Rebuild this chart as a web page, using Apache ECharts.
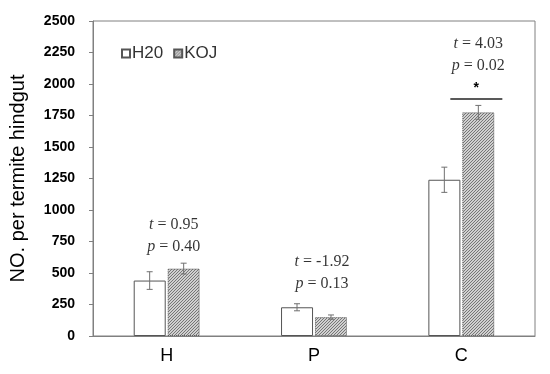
<!DOCTYPE html>
<html><head><meta charset="utf-8">
<script src="https://cdn.jsdelivr.net/npm/echarts@6/dist/echarts.min.js"></script>
<style>html,body{margin:0;padding:0;background:#fff}#c{width:550px;height:374px}</style>
</head><body><div id="c"></div>
<script>
const categories = ['H', 'P', 'C'];
const h20Values = [440, 228, 1240];
const h20Errors = [70, 28, 100];
const kojValues = [535, 150, 1775];
const kojErrors = [43, 17, 55];
const yTicks = [0, 250, 500, 750, 1000, 1250, 1500, 1750, 2000, 2250, 2500];
const annotations = [
  { cat: 0, y: 794, t: '0.95', p: '0.40', dx: 7 },
  { cat: 1, y: 504, t: '-1.92', p: '0.13', dx: 8 },
  { cat: 2, y: 2235, t: '4.03', p: '0.02', dx: 17 }
];
const sigMarks = [{ cat: 2, y: 1881, dx: 15, halfLen: 26 }];

const tile = document.createElement('canvas');
tile.width = 3; tile.height = 3;
const g = tile.getContext('2d');
g.fillStyle = '#d0d0d0'; g.fillRect(0, 0, 3, 3);
g.fillStyle = '#767676';
g.fillRect(2, 0, 1, 1); g.fillRect(1, 1, 1, 1); g.fillRect(0, 2, 1, 1);
const hatch = { image: tile, repeat: 'repeat' };

const BAR_W = 32, OFFSET = 17;
function errSeries(vals, errs, off) {
  return {
    type: 'custom', silent: true, z: 5,
    data: vals.map((v, i) => [i, v, errs[i]]),
    renderItem: function (params, api) {
      const c = api.coord([api.value(0), api.value(1) + api.value(2)]);
      const d = api.coord([api.value(0), api.value(1) - api.value(2)]);
      const x = c[0] + off;
      const st = { stroke: '#707070', lineWidth: 1 };
      return { type: 'group', children: [
        { type: 'line', shape: { x1: x, y1: c[1], x2: x, y2: d[1] }, style: st },
        { type: 'line', shape: { x1: x - 3, y1: c[1], x2: x + 3, y2: c[1] }, style: st },
        { type: 'line', shape: { x1: x - 3, y1: d[1], x2: x + 3, y2: d[1] }, style: st }
      ] };
    }
  };
}

const chart = echarts.init(document.getElementById('c'));
chart.setOption({
  animation: false,
  grid: { left: 93, right: 15, top: 21, bottom: 38, show: true, borderColor: '#808080', borderWidth: 1 },
  legend: {
    left: 116, top: 40, itemWidth: 8, itemHeight: 8, itemGap: 10,
    textStyle: { fontFamily: 'Liberation Sans', fontSize: 17, color: '#333', padding: [0, 0, 0, -3] },
    data: [{ name: 'H20', icon: 'rect' }, { name: 'KOJ', icon: 'rect' }]
  },
  xAxis: {
    type: 'category', data: categories,
    axisLine: { lineStyle: { color: '#808080' } },
    axisTick: { show: false },
    axisLabel: { fontFamily: 'Liberation Sans', fontSize: 18, color: '#000', margin: 11 }
  },
  yAxis: {
    type: 'value', min: yTicks[0], max: yTicks[yTicks.length - 1], interval: 250,
    name: 'NO. per termite hindgut', nameLocation: 'middle', nameGap: 65,
    nameTextStyle: { fontFamily: 'Liberation Sans', fontSize: 20, color: '#000' },
    axisLine: { show: true, lineStyle: { color: '#808080' } },
    axisTick: { show: true, inside: false, length: 4, lineStyle: { color: '#808080' } },
    splitLine: { show: false },
    axisLabel: { fontFamily: 'Liberation Sans', fontWeight: 'bold', fontSize: 14, color: '#000', margin: 18,
      formatter: v => String(v) }
  },
  series: [
    { name: 'H20', type: 'bar', data: h20Values, barWidth: BAR_W, barGap: '6%',
      itemStyle: { color: '#fff', borderColor: '#555', borderWidth: 1 } },
    { name: 'KOJ', type: 'bar', data: kojValues, barWidth: BAR_W,
      itemStyle: { color: hatch, borderColor: '#555', borderWidth: 1, borderType: 'dotted' } },
    errSeries(h20Values, h20Errors, -OFFSET),
    errSeries(kojValues, kojErrors, OFFSET),
    {
      type: 'scatter', symbolSize: 0, silent: true, z: 6,
      data: annotations.map(a => ({
        value: [a.cat, a.y],
        label: {
          show: true, position: 'inside', offset: [a.dx, 0],
          formatter: '{i|t} = ' + a.t + '\n{i|p} = ' + a.p,
          fontFamily: 'Liberation Serif', fontSize: 16, color: '#000', lineHeight: 22, align: 'center',
          rich: { i: { fontStyle: 'italic', fontFamily: 'Liberation Serif', fontSize: 16, color: '#000', lineHeight: 22 } }
        }
      }))
    },
    {
      type: 'custom', silent: true, z: 6,
      data: sigMarks.map(s => [s.cat, s.y, s.dx, s.halfLen]),
      renderItem: function (params, api) {
        const p = api.coord([api.value(0), api.value(1)]);
        const x = p[0] + api.value(2), h = api.value(3);
        return { type: 'group', children: [
          { type: 'line', shape: { x1: x - h, y1: p[1], x2: x + h, y2: p[1] }, style: { stroke: '#222', lineWidth: 1.5 } },
          { type: 'text', style: { text: '*', x: x, y: p[1] - 4, align: 'center', verticalAlign: 'bottom',
            font: 'bold 14px Liberation Sans', fill: '#000' } }
        ] };
      }
    }
  ]
});
</script></body></html>
